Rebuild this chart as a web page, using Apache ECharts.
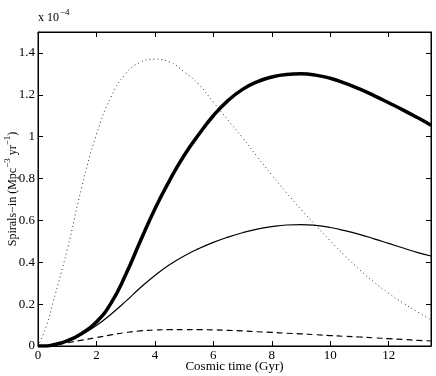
<!DOCTYPE html>
<html>
<head>
  <meta charset="UTF-8">
  <title>Spirals-in rate</title>
  <script src="https://cdn.jsdelivr.net/npm/echarts@6.0.0/dist/echarts.min.js"></script>
  <style>
    html, body { margin: 0; padding: 0; background: #fff; }
    #chart { width: 436px; height: 376px; }
  </style>
</head>
<body>
  <div id="chart"></div>
  <script>
    // cosmic time (Gyr) sample points
    var times = [0, 0.3, 0.5, 1, 1.5, 2, 2.5, 3, 3.5, 4, 4.5, 5, 5.5, 6, 6.5, 7, 7.5, 8, 8.5, 9, 9.5, 10, 10.5, 11, 11.5, 12, 12.5, 13, 13.45];
    // rates in units of 1e-4 Mpc^-3 yr^-1
    var thickRate  = [0, 0, 0.005, 0.025, 0.06, 0.115, 0.205, 0.34, 0.5, 0.655, 0.79, 0.91, 1.01, 1.1, 1.172, 1.226, 1.262, 1.285, 1.297, 1.3, 1.294, 1.279, 1.256, 1.228, 1.196, 1.162, 1.127, 1.09, 1.055];
    var thinRate   = [0, 0, 0.005, 0.022, 0.055, 0.098, 0.152, 0.213, 0.278, 0.337, 0.388, 0.43, 0.465, 0.495, 0.52, 0.541, 0.558, 0.57, 0.578, 0.58, 0.576, 0.566, 0.551, 0.533, 0.512, 0.49, 0.468, 0.446, 0.43];
    var dottedRate = [0, 0.1, 0.2, 0.46, 0.76, 1.01, 1.19, 1.3, 1.355, 1.37, 1.357, 1.31, 1.25, 1.165, 1.08, 0.995, 0.905, 0.817, 0.733, 0.653, 0.577, 0.503, 0.432, 0.365, 0.305, 0.252, 0.205, 0.162, 0.125];
    var dashedRate = [0, 0, 0.003, 0.015, 0.028, 0.04, 0.053, 0.064, 0.072, 0.076, 0.078, 0.078, 0.078, 0.077, 0.075, 0.072, 0.068, 0.065, 0.061, 0.058, 0.054, 0.05, 0.046, 0.043, 0.039, 0.035, 0.031, 0.027, 0.024];
    var yTicks = [0, 0.2, 0.4, 0.6, 0.8, 1, 1.2, 1.4];

    function pairs(ys) {
      return times.map(function (t, i) { return [t, ys[i]]; });
    }

    var font = 'Liberation Serif';
    var chart = echarts.init(document.getElementById('chart'));

    var tickStyle = { show: true, inside: true, length: 5, lineStyle: { color: '#000', width: 1 } };
    var frameLine = { show: true, onZero: false, lineStyle: { color: '#000', width: 1 } };

    chart.setOption({
      animation: false,
      grid: { left: 38, right: 5, top: 32, bottom: 30, containLabel: false, outerBoundsMode: 'none',
              show: true, borderColor: '#000', borderWidth: 1 },
      graphic: [{
        type: 'text', left: 38, top: 8,
        style: {
          text: '{a|x 10}{s|−4}',
          rich: {
            a: { fontFamily: font, fontSize: 12, fill: '#000', padding: [6, 0, 0, 0] },
            s: { fontFamily: font, fontSize: 9, fill: '#000', padding: [0, 0, 4, 1] }
          }
        }
      }],
      xAxis: [{
        type: 'value', min: 0, max: 13.45, interval: 2,
        name: 'Cosmic time (Gyr)', nameLocation: 'middle', nameGap: 14, nameMoveOverlap: false,
        nameTextStyle: { fontFamily: font, fontSize: 13, color: '#000', verticalAlign: 'top' },
        axisLine: frameLine, axisTick: tickStyle, splitLine: { show: false },
        axisLabel: {
          fontFamily: font, fontSize: 13, color: '#000', margin: 3,
          formatter: function (v) { return (v % 2 === 0) ? String(v) : ''; }
        }
      }, {
        type: 'value', min: 0, max: 13.45, interval: 2, position: 'top',
        axisLine: frameLine, axisTick: tickStyle, splitLine: { show: false },
        axisLabel: { show: false }
      }],
      yAxis: [{
        type: 'value', min: 0, max: 1.5, interval: 0.2,
        name: '{a|Spirals−in (Mpc}{s|−3}{a| yr}{s|−1}{a|)}',
        nameLocation: 'middle', nameGap: 19, nameRotate: 90, nameMoveOverlap: false,
        nameTextStyle: {
          rich: {
            a: { fontFamily: font, fontSize: 12, color: '#000', padding: [6, 0, 0, 0] },
            s: { fontFamily: font, fontSize: 9, color: '#000', padding: [0, 0, 4, 0] }
          }
        },
        axisLine: frameLine, axisTick: tickStyle, splitLine: { show: false },
        axisLabel: {
          fontFamily: font, fontSize: 13, color: '#000', margin: 3,
          formatter: function (v) {
            var r = Math.round(v * 10) / 10;
            return yTicks.indexOf(r) >= 0 && Math.abs(v - r) < 1e-6 ? String(r) : '';
          }
        }
      }, {
        type: 'value', min: 0, max: 1.5, interval: 0.2, position: 'right',
        axisLine: frameLine, axisTick: tickStyle, splitLine: { show: false },
        axisLabel: { show: false }
      }],
      series: [
        { type: 'line', data: pairs(dottedRate), smooth: 0.5, symbol: 'none',
          lineStyle: { color: '#333', width: 1, type: [1, 3] } },
        { type: 'line', data: pairs(dashedRate), smooth: 0.5, symbol: 'none',
          lineStyle: { color: '#000', width: 1.2, type: [6, 4] } },
        { type: 'line', data: pairs(thinRate), smooth: 0.5, symbol: 'none',
          lineStyle: { color: '#000', width: 1.2 } },
        { type: 'line', data: pairs(thickRate), smooth: 0.5, symbol: 'none',
          lineStyle: { color: '#000', width: 3.5 } }
      ]
    });
  </script>
</body>
</html>
